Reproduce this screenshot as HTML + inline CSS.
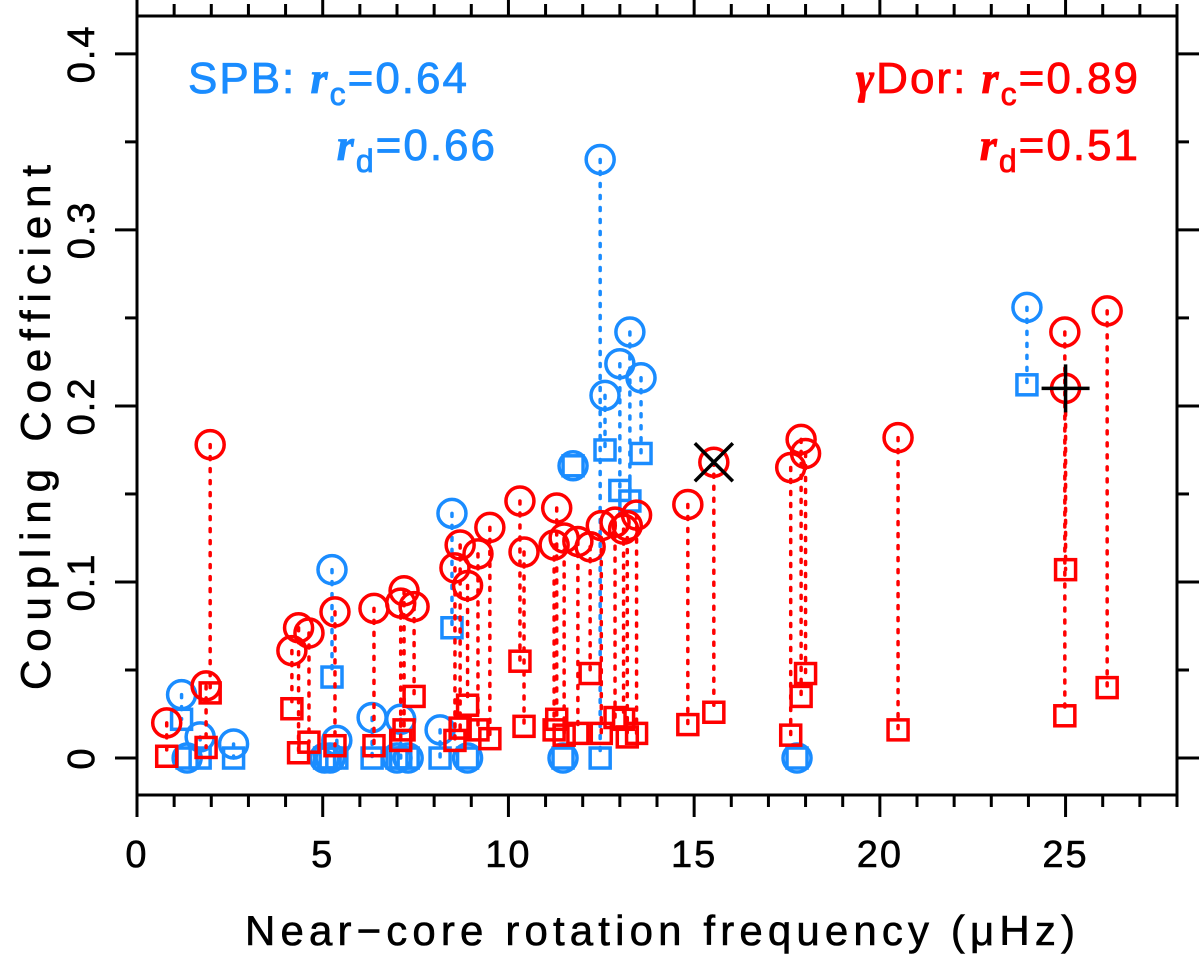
<!DOCTYPE html>
<html><head><meta charset="utf-8"><style>
html,body{margin:0;padding:0;background:#fff;}
svg{display:block;font-family:"Liberation Sans",sans-serif;}
</style></head><body>
<svg id="chart" width="1200" height="957" viewBox="0 0 1200 957" xmlns="http://www.w3.org/2000/svg">
<g id="axes"></g>
<g id="marks"></g>
<g fill="#1a8cff" stroke="#1a8cff" stroke-width="0.8" font-size="44" letter-spacing="2">
<text x="188" y="93">SPB: <tspan font-family="Liberation Serif" font-style="italic" font-weight="bold">r</tspan><tspan font-size="32" dy="12">c</tspan><tspan dy="-12">=0.64</tspan></text>
<text x="497" y="160" text-anchor="end"><tspan font-family="Liberation Serif" font-style="italic" font-weight="bold">r</tspan><tspan font-size="32" dy="12">d</tspan><tspan dy="-12">=0.66</tspan></text>
</g>
<g fill="#ff0000" stroke="#ff0000" stroke-width="0.8" font-size="44" letter-spacing="2">
<text x="1140" y="93" text-anchor="end"><tspan font-family="Liberation Serif" font-style="italic" font-weight="bold">γ</tspan>Dor: <tspan font-family="Liberation Serif" font-style="italic" font-weight="bold">r</tspan><tspan font-size="32" dy="12">c</tspan><tspan dy="-12">=0.89</tspan></text>
<text x="1140" y="160" text-anchor="end"><tspan font-family="Liberation Serif" font-style="italic" font-weight="bold">r</tspan><tspan font-size="32" dy="12">d</tspan><tspan dy="-12">=0.51</tspan></text>
</g>
<text x="245" y="945" textLength="830" lengthAdjust="spacing" font-size="42" stroke="#000" stroke-width="0.6">Near−core rotation frequency (μHz)</text>
<text transform="translate(50,690) rotate(-90)" textLength="525" lengthAdjust="spacing" font-size="42" stroke="#000" stroke-width="0.6">Coupling Coefficient</text>
</svg>
<script>
const xTicks=[0,5,10,15,20,25];
const yTicks=[0,0.1,0.2,0.3,0.4];
const yTickLabels=["0","0.1","0.2","0.3","0.4"];
// SPB stars: frequency, circle value, square value
const spbX=[1.2,1.7,2.6,1.35,5.25,5.38,5.05,5.2,6.33,7.1,7.0,7.3,8.16,8.48,8.9,11.74,11.47,12.47,12.6,13.0,13.27,13.57,17.77,23.96];
const spbC=[0.036,0.012,0.008,0,0.107,0.01,0,0,0.023,0.022,0,0,0.016,0.139,0,0.166,0,0.340,0.206,0.224,0.242,0.216,0,0.256];
const spbS=[0.022,0,0,0,0.046,0,0,0,0,0,0,0,0,0.074,0,0.166,0,0,0.175,0.152,0.146,0.173,0,0.212];
// gamma Dor stars
const gdX=[0.8,1.86,1.97,4.17,4.35,4.63,5.33,6.38,7.19,7.1,7.46,8.56,8.7,8.9,9.18,9.5,10.31,10.42,11.23,11.3,11.5,11.87,12.2,12.5,12.87,13.1,13.2,13.45,14.83,15.53,17.6,17.88,18.0,20.49,24.98,25.0,26.12];
const gdC=[0.020,0.041,0.178,0.061,0.074,0.071,0.083,0.085,0.095,0.088,0.086,0.108,0.121,0.098,0.116,0.131,0.146,0.117,0.121,0.142,0.125,0.123,0.120,0.132,0.134,0.130,0.132,0.138,0.144,0.168,0.165,0.181,0.173,0.182,0.242,0.210,0.254];
const gdS=[0.001,0.006,0.037,0.028,0.003,0.009,0.007,0.007,0.016,0.010,0.035,0.010,0.017,0.030,0.016,0.011,0.055,0.018,0.016,0.022,0.013,0.014,0.048,0.014,0.023,0.022,0.012,0.014,0.019,0.026,0.013,0.035,0.048,0.016,0.024,0.107,0.040];
const L=137,R=1177,T=16,B=795,XMIN=0,XMAX=28,YMIN=-0.0210,YMAX=0.4215;
const sx=v=>L+(v-XMIN)/(XMAX-XMIN)*(R-L);
const sy=v=>B-(v-YMIN)/(YMAX-YMIN)*(B-T);
const NS="http://www.w3.org/2000/svg";
function mk(tag,attrs,parent){const e=document.createElementNS(NS,tag);for(const k in attrs)e.setAttribute(k,attrs[k]);parent.appendChild(e);return e;}
const axes=document.getElementById('axes'),marks=document.getElementById('marks');
const frame=mk('rect',{x:L,y:T,width:R-L,height:B-T,fill:'none',stroke:'#000','stroke-width':3},axes);


for(let v=0;v<=28;v++){const x=sx(v),len=v%5===0?22:12;
 const t1=mk('line',{x1:x,y1:B,x2:x,y2:B+len,stroke:'#000','stroke-width':3},axes);
 
 
 const t2=mk('line',{x1:x,y1:T,x2:x,y2:T-len,stroke:'#000','stroke-width':3},axes);
 
 }
xTicks.forEach(v=>{const t=mk('text',{x:sx(v),y:B+72,'text-anchor':'middle','font-size':38,stroke:'#000','stroke-width':0.6,'letter-spacing':2},axes);t.textContent=String(v);
 
 });
for(let i=0;i<=8;i++){const v=i*0.05,y=sy(v),len=i%2===0?22:12;
 const t1=mk('line',{x1:L,y1:y,x2:L-len,y2:y,stroke:'#000','stroke-width':3},axes);
 
 
 const t2=mk('line',{x1:R,y1:y,x2:R+len,y2:y,stroke:'#000','stroke-width':3},axes);
 
 }
yTicks.forEach((v,i)=>{const t=mk('text',{transform:`translate(${L-43},${sy(v)}) rotate(-90)`,'text-anchor':'middle','font-size':38,stroke:'#000','stroke-width':0.6,'letter-spacing':2},axes);t.textContent=yTickLabels[i];
 
 });
function series(xs,cs,ss,col,name){
 xs.forEach((xv,i)=>{const x=sx(xv),yc=sy(cs[i]),ys=sy(ss[i]);
  const g=mk('g',{},marks);
  
  
  if(Math.abs(yc-ys)>2){const ln=mk('line',{x1:x,y1:yc,x2:x,y2:ys,stroke:col,'stroke-width':3.5,'stroke-dasharray':'3 9','stroke-linecap':'round'},g);
   
   }
  const c=mk('circle',{cx:x,cy:yc,r:14,fill:'none',stroke:col,'stroke-width':3.5},g);
  
  
  const s=mk('rect',{x:x-10,y:ys-10,width:20,height:20,fill:'none',stroke:col,'stroke-width':3.5},g);
  
  
 });
}
series(spbX,spbC,spbS,'#1a8cff','spb');
series(gdX,gdC,gdS,'#ff0000','gdor');
const cx1=sx(15.53),cy1=sy(0.168);
const xm=mk('path',{d:`M${cx1-19},${cy1-19}L${cx1+19},${cy1+19}M${cx1-19},${cy1+19}L${cx1+19},${cy1-19}`,stroke:'#000','stroke-width':3.5,fill:'none'},marks);


const cx2=sx(25.0),cy2=sy(0.210);
const pm=mk('path',{d:`M${cx2-24},${cy2}L${cx2+24},${cy2}M${cx2},${cy2-24}L${cx2},${cy2+24}`,stroke:'#000','stroke-width':3.5,fill:'none'},marks);


</script>
</body></html>
